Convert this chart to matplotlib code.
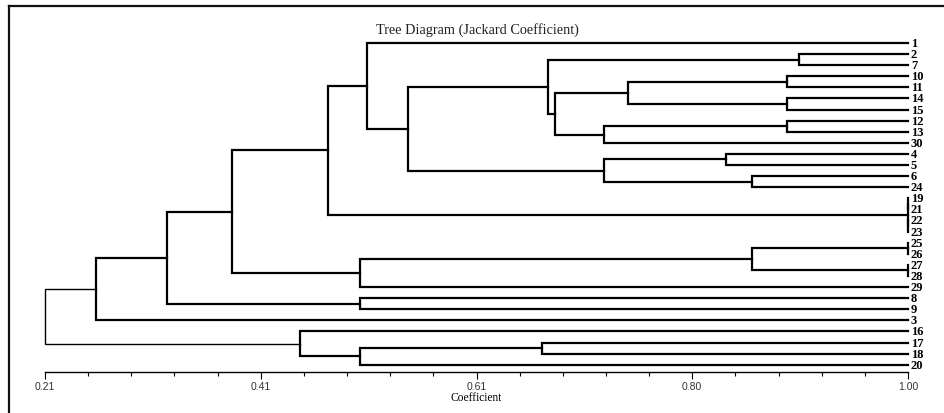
import numpy as np
import matplotlib
matplotlib.use('Agg')
import matplotlib.pyplot as plt
from matplotlib.lines import Line2D

# Yapraklar (yukaridan asagiya)
leaves = ['1', '2', '7', '10', '11', '14', '15', '12', '13', '30', '4', '5', '6', '24',
          '19', '21', '22', '23', '25', '26', '27', '28', '29', '8', '9', '3',
          '16', '17', '18', '20']

# Birlesmeler: (yeni kume, sol, sag, katsayi)
merges = [
    ('A', '2', '7', 0.900),
    ('B1', '10', '11', 0.889),
    ('B2', '14', '15', 0.889),
    ('B', 'B1', 'B2', 0.744),
    ('C1', '12', '13', 0.889),
    ('C', 'C1', '30', 0.722),
    ('D', 'B', 'C', 0.677),
    ('E', 'A', 'D', 0.670),
    ('F1', '4', '5', 0.833),
    ('F2', '6', '24', 0.857),
    ('F', 'F1', 'F2', 0.722),
    ('G', 'E', 'F', 0.542),
    ('H', '1', 'G', 0.505),
    ('I1', '19', '21', 1.000),
    ('I2', '22', '23', 1.000),
    ('I', 'I1', 'I2', 1.000),
    ('J', 'H', 'I', 0.469),
    ('K1', '25', '26', 1.000),
    ('K2', '27', '28', 1.000),
    ('K', 'K1', 'K2', 0.857),
    ('L', 'K', '29', 0.498),
    ('N', 'J', 'L', 0.381),
    ('M', '8', '9', 0.498),
    ('O', 'N', 'M', 0.322),
    ('P', 'O', '3', 0.257),
    ('Q1', '17', '18', 0.665),
    ('Q2', 'Q1', '20', 0.498),
    ('Q', '16', 'Q2', 0.443),
    ('R', 'P', 'Q', 0.210),
]

tick_vals = np.linspace(0.21, 1.00, 21)
tick_labels = ['0.21', '0.41', '0.61', '0.80', '1.00']

W, H = 944, 414
fig = plt.figure(figsize=(W / 100, H / 100), dpi=100)
fig.patch.set_facecolor('white')

# cerceve (ust ve sol kenar)
fig.add_artist(Line2D([9 / W, 9 / W], [0, 1 - 7 / H], color='#111111', lw=1.6))
fig.add_artist(Line2D([9 / W, 1], [1 - 7 / H, 1 - 7 / H], color='#111111', lw=1.6))

ax = fig.add_axes([45 / W, 1 - 373 / H, 863 / W, (373 - 44) / H])
ax.set_xlim(0.21, 1.00)
ax.set_ylim(29 + 7.3 / 11.09, 0)

pos = {name: (1.0, i) for i, name in enumerate(leaves)}
for new, a, b, h in merges:
    xa, ya = pos[a]
    xb, yb = pos[b]
    lw = 1.0 if new == 'R' else 1.6
    ax.plot([xa, h, h, xb], [ya, ya, yb, yb], color='black', lw=lw,
            solid_joinstyle='miter', clip_on=False)
    pos[new] = (h, (ya + yb) / 2)

for i, name in enumerate(leaves):
    ax.annotate(name, (1.0, i), xytext=(2, 0), textcoords='offset points',
                ha='left', va='center', fontsize=9, fontweight='bold',
                family='Liberation Serif', annotation_clip=False)

for s in ['top', 'left', 'right']:
    ax.spines[s].set_visible(False)
ax.spines['bottom'].set_linewidth(1.0)
ax.set_yticks([])
ax.set_xticks(tick_vals[::5])
ax.set_xticklabels(tick_labels, fontsize=7.5, family='Liberation Sans', color='#333333')
ax.set_xticks(tick_vals, minor=True)
ax.tick_params(axis='x', which='major', direction='out', length=5, width=0.8, pad=1.5)
ax.tick_params(axis='x', which='minor', direction='out', length=3, width=0.8)
ax.set_xlabel('Coefficient', fontsize=8.3, family='Liberation Serif', labelpad=0)

fig.text(477 / W, 1 - 30 / H, 'Tree Diagram (Jackard Coefficient)', ha='center',
         va='center', fontsize=10.3, family='Liberation Serif', color='#222222')

plt.savefig('out.png', dpi=100)
